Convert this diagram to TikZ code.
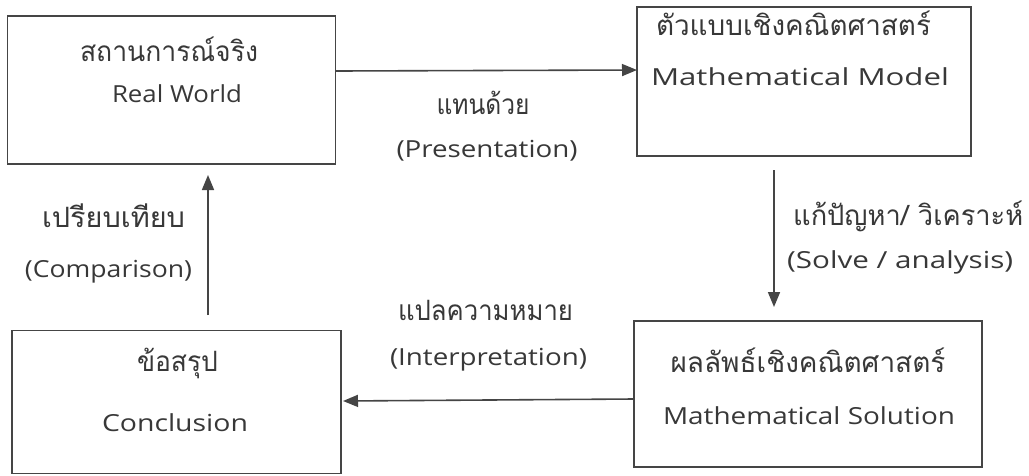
\documentclass[tikz,border=0pt]{standalone}
\usepackage{graphicx}
\usepackage{fontspec}
\setmainfont{Open Sans}
\newfontfamily\thaif[Script=Thai]{Loma}
\usetikzlibrary{arrows.meta}
\definecolor{ink}{HTML}{383838}
\definecolor{edge}{HTML}{454545}
\newcommand{\fw}[2]{\setbox0\hbox{#2}\pgfmathsetmacro{\sx}{#1/\wd0}\scalebox{\sx}[1]{\box0}}
\tikzset{
  box/.style={draw=edge, line width=1.6pt, inner sep=0pt},
  txt/.style={text=ink, font=\fontsize{23.5}{26}\selectfont, inner sep=0pt, anchor=base},
  tht/.style={text=ink, font=\thaif\fontsize{28}{30}\selectfont, inner sep=0pt, anchor=base},
  conn/.style={draw=edge, line width=1.6pt, -{Triangle[length=15pt,width=12pt]}},
}
\begin{document}
\begin{tikzpicture}[x=1pt,y=-1pt]
\useasboundingbox[fill=white] (0,0) rectangle (1029,475);
% boxes
\node[box, minimum width=328pt, minimum height=148pt] (rw) at (171.5,90) {};
\node[box, minimum width=334pt, minimum height=149pt] (mm) at (804,81.5) {};
\node[box, minimum width=329pt, minimum height=143pt] (cc) at (176.5,402) {};
\node[box, minimum width=348pt, minimum height=146pt] (ms) at (808,394) {};
% box texts
\node[tht] (rwth) at (169,61) {\fw{178}{สถานการณ์จริง}};
\node[txt] (rwen) at (177,102) {\fw{130}{Real World}};
\node[tht] (mmth) at (793.5,35) {\fw{275}{ตัวแบบเชิงคณิตศาสตร์}};
\node[txt] (mmen) at (800,85) {\fw{298}{Mathematical Model}};
\node[tht] (ccth) at (177.5,371) {\fw{81}{ข้อสรุป}};
\node[txt] (ccen) at (175,431) {\fw{146}{Conclusion}};
\node[tht] (msth) at (808,372) {\fw{275}{ผลลัพธ์เชิงคณิตศาสตร์}};
\node[txt] (msen) at (809,424) {\fw{292}{Mathematical Solution}};
% connectors
\coordinate (a1) at (336,71);
\coordinate (a2) at (637,70);
\draw[conn] (a1) -- (a2);
\coordinate (b1) at (774,170);
\coordinate (b2) at (774,307);
\draw[conn] (b1) -- (b2);
\coordinate (c1) at (634,399);
\coordinate (c2) at (343,401);
\draw[conn] (c1) -- (c2);
\coordinate (d1) at (208,315);
\coordinate (d2) at (208,175);
\draw[conn] (d1) -- (d2);
% connector labels
\node[tht] (l1th) at (483,114) {\fw{93}{แทนด้วย}};
\node[txt] (l1en) at (487,157) {\fw{181}{(Presentation)}};
\node[tht, anchor=base west] (l2th) at (793,225) {\fw{230}{แก้ปัญหา/ วิเคราะห์}};
\node[txt, anchor=base west] (l2en) at (787,268) {\fw{226}{(Solve / analysis)}};
\node[tht] (l3th) at (485.5,320) {\fw{175}{แปลความหมาย}};
\node[txt] (l3en) at (488.5,365) {\fw{197}{(Interpretation)}};
\node[tht] (l4th) at (113.5,227) {\fw{143}{เปรียบเทียบ}};
\node[txt] (l4en) at (108.5,277) {\fw{167}{(Comparison)}};
\end{tikzpicture}
\end{document}
